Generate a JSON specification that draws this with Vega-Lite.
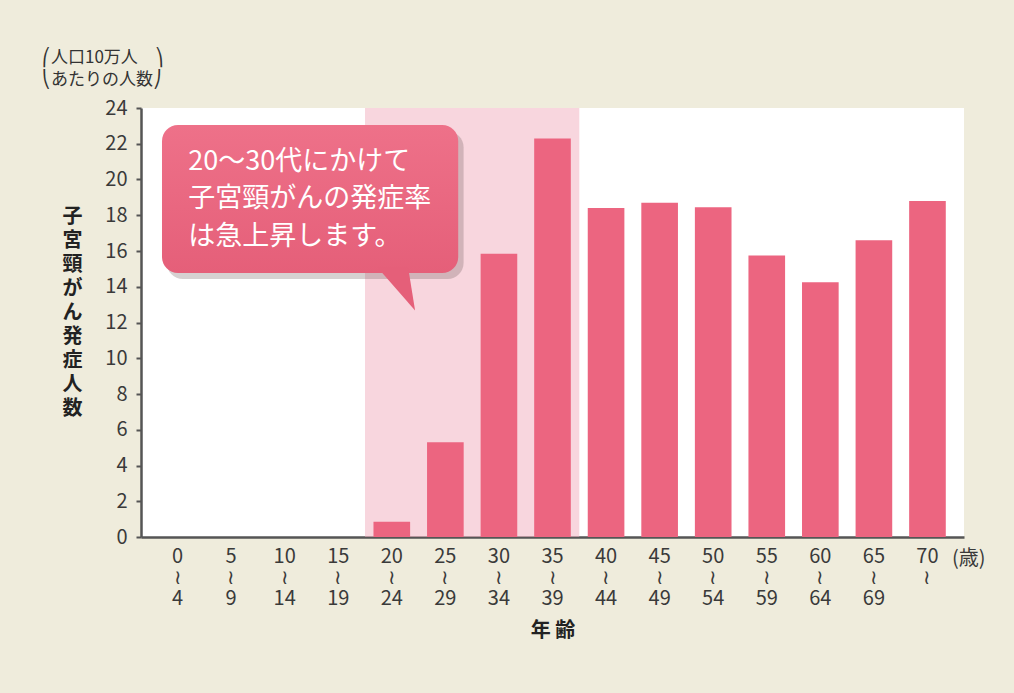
{
  "$schema": "https://vega.github.io/schema/vega-lite/v6.json",
  "width": 823,
  "height": 429,
  "autosize": "none",
  "padding": {"left": 141, "top": 108, "right": 50, "bottom": 156},
  "background": "#efecdc",
  "config": {
    "view": {"fill": "#ffffff", "stroke": null},
    "font": "Noto Sans CJK JP"
  },
  "title": {
    "text": ["⎛人口10万人　⎞", "⎝あたりの人数⎠"],
    "anchor": "start",
    "frame": "group",
    "align": "left",
    "dx": -99,
    "offset": 9,
    "fontSize": 17,
    "fontWeight": "normal",
    "lineHeight": 22,
    "color": "#333333",
    "font": "Noto Sans CJK JP"
  },
  "data": {
    "values": [
      {"age": "0〜4", "rate": 0},
      {"age": "5〜9", "rate": 0},
      {"age": "10〜14", "rate": 0},
      {"age": "15〜19", "rate": 0},
      {"age": "20〜24", "rate": 0.85},
      {"age": "25〜29", "rate": 5.3},
      {"age": "30〜34", "rate": 15.85},
      {"age": "35〜39", "rate": 22.3},
      {"age": "40〜44", "rate": 18.4},
      {"age": "45〜49", "rate": 18.7},
      {"age": "50〜54", "rate": 18.45},
      {"age": "55〜59", "rate": 15.75},
      {"age": "60〜64", "rate": 14.25},
      {"age": "65〜69", "rate": 16.6},
      {"age": "70〜", "rate": 18.8}
    ]
  },
  "layer": [
    {
      "data": {"values": [{}]},
      "mark": {"type": "rect", "fill": "#f2aebd", "opacity": 0.5},
      "encoding": {
        "x": {"datum": 4, "type": "quantitative", "scale": {"domain": [-0.182, 15.182], "nice": false, "zero": false}, "axis": null},
        "x2": {"datum": 8},
        "y": {"datum": 0, "type": "quantitative", "scale": {"domain": [0, 24], "nice": false}, "axis": null},
        "y2": {"datum": 24}
      }
    },
    {
      "mark": {"type": "bar", "color": "#ec6580"},
      "encoding": {
        "x": {
          "field": "age",
          "type": "nominal",
          "sort": null,
          "scale": {"paddingInner": 0.316, "paddingOuter": 0.34},
          "axis": {
            "title": "年 齢",
            "labelExpr": "split(replace(datum.label, '〜', '|≀|'), '|')",
            "labelAngle": 0,
            "labelFontSize": 20,
            "labelLineHeight": 21,
            "labelColor": "#3a3a3a",
            "labelBaseline": "top",
            "labelPadding": 9,
            "ticks": false,
            "domainColor": "#555555",
            "domainWidth": 2.5,
            "titleFontSize": 20,
            "titleFontWeight": "bold",
            "titleColor": "#222222",
            "titlePadding": 12,
            "grid": false
          }
        },
        "y": {
          "field": "rate",
          "type": "quantitative",
          "scale": {"domain": [0, 24], "nice": false},
          "axis": {
            "title": ["子", "宮", "頸", "が", "ん", "発", "症", "人", "数"],
            "titleAngle": 0,
            "titleX": -69,
            "titleY": 108,
            "titleAlign": "center",
            "titleBaseline": "middle",
            "titleFontSize": 20,
            "titleFontWeight": "bold",
            "titleLineHeight": 24,
            "titleColor": "#222222",
            "values": [0, 2, 4, 6, 8, 10, 12, 14, 16, 18, 20, 22, 24],
            "labelOverlap": false,
            "labelFontSize": 20,
            "labelColor": "#3a3a3a",
            "labelPadding": 9,
            "tickSize": 5,
            "tickColor": "#555555",
            "tickWidth": 2,
            "domainColor": "#555555",
            "domainWidth": 2.5,
            "gridColor": "#c8c8c8",
            "gridDash": [2, 3],
            "gridWidth": 1,
            "zindex": 1
          }
        }
      }
    },
    {
      "data": {"values": [{}]},
      "mark": {"type": "rect", "cornerRadius": 16, "fill": "#6b5a5a", "opacity": 0.28},
      "encoding": {
        "x": {"datum": 0.30, "type": "quantitative", "scale": {"domain": [-0.182, 15.182], "nice": false, "zero": false}, "axis": null},
        "x2": {"datum": 5.84},
        "y": {"datum": 22.7, "type": "quantitative", "scale": {"domain": [0, 24], "nice": false}, "axis": null},
        "y2": {"datum": 14.43}
      }
    },
    {
      "data": {"values": [{}]},
      "mark": {
        "type": "rect",
        "cornerRadius": 16,
        "fill": {
          "gradient": "linear",
          "x1": 0, "y1": 0, "x2": 0, "y2": 1,
          "stops": [
            {"offset": 0, "color": "#ee7189"},
            {"offset": 1, "color": "#e55f79"}
          ]
        }
      },
      "encoding": {
        "x": {"datum": 0.21, "type": "quantitative", "scale": {"domain": [-0.182, 15.182], "nice": false, "zero": false}, "axis": null},
        "x2": {"datum": 5.74},
        "y": {"datum": 23.05, "type": "quantitative", "scale": {"domain": [0, 24], "nice": false}, "axis": null},
        "y2": {"datum": 14.77}
      }
    },
    {
      "data": {"values": [{}]},
      "mark": {
        "type": "point",
        "shape": "M-1,-1.3L0.63,-1.3L1,1Z",
        "size": 1444,
        "filled": true,
        "fill": "#e55f79",
        "opacity": 1,
        "strokeWidth": 0
      },
      "encoding": {
        "x": {"datum": 4.58, "type": "quantitative", "scale": {"domain": [-0.182, 15.182], "nice": false, "zero": false}, "axis": null},
        "y": {"datum": 13.73, "type": "quantitative", "scale": {"domain": [0, 24], "nice": false}, "axis": null}
      }
    },
    {
      "data": {"values": [{}]},
      "mark": {
        "type": "text",
        "align": "left",
        "baseline": "middle",
        "fontSize": 27,
        "lineHeight": 37.5,
        "color": "#ffffff",
        "fontWeight": "normal",
        "font": "Noto Sans CJK JP"
      },
      "encoding": {
        "x": {"datum": 0.70, "type": "quantitative", "scale": {"domain": [-0.182, 15.182], "nice": false, "zero": false}, "axis": null},
        "y": {"datum": 20.98, "type": "quantitative", "scale": {"domain": [0, 24], "nice": false}, "axis": null},
        "text": {"value": ["20〜30代にかけて", "子宮頸がんの発症率", "は急上昇します。"]}
      }
    },
    {
      "data": {"values": [{}]},
      "mark": {
        "type": "text",
        "align": "left",
        "baseline": "middle",
        "fontSize": 20,
        "dy": 22,
        "color": "#3a3a3a",
        "font": "Noto Sans CJK JP"
      },
      "encoding": {
        "x": {"datum": 14.96, "type": "quantitative", "scale": {"domain": [-0.182, 15.182], "nice": false, "zero": false}, "axis": null},
        "y": {"datum": 0, "type": "quantitative", "scale": {"domain": [0, 24], "nice": false}, "axis": null},
        "text": {"value": "(歳)"}
      }
    }
  ],
  "resolve": {"scale": {"x": "independent", "y": "independent"}}
}
